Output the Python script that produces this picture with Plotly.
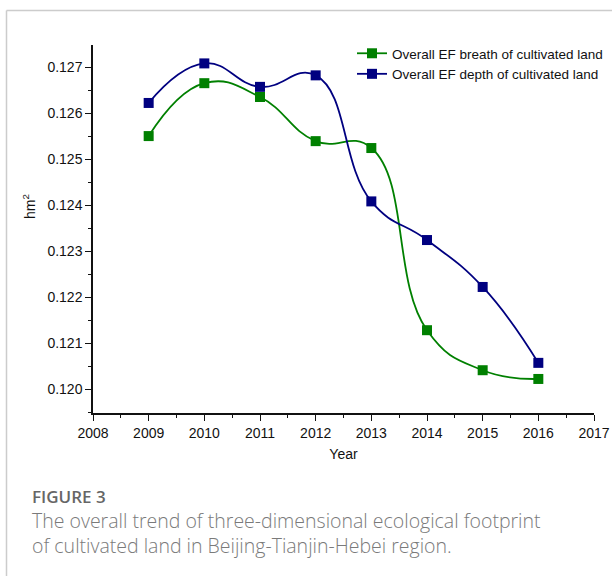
import plotly.graph_objects as go

years = [2009, 2010, 2011, 2012, 2013, 2014, 2015, 2016]
ef_breadth = [0.12551, 0.12666, 0.12636, 0.12540, 0.12525, 0.12129, 0.12042, 0.12023]
ef_depth = [0.12623, 0.12709, 0.12658, 0.12683, 0.12409, 0.12325, 0.12223, 0.12058]

series_names = ["Overall EF breath of cultivated land", "Overall EF depth of cultivated land"]
series_colors = ["#008000", "#000080"]

fig = go.Figure()
for name, vals, col in zip(series_names, [ef_breadth, ef_depth], series_colors):
    fig.add_trace(go.Scatter(
        x=years, y=vals, name=name, mode="lines+markers",
        line=dict(color=col, width=1.8, shape="spline", smoothing=1.3),
        marker=dict(symbol="square", size=10, color=col),
    ))

# plot area in pixels: x 93..594, y 45..413
W, H = 613, 576
L, R, T, B = 93, 19, 45, 163
pw, ph = W - L - R, H - T - B

def px(x):
    return (x - L) / pw

def py(y):
    return (H - B - y) / ph

axis_font = dict(family="Liberation Sans, Arial, sans-serif", size=14, color="#111")

fig.update_layout(
    width=W, height=H,
    margin=dict(l=L, r=R, t=T, b=B, autoexpand=False),
    paper_bgcolor="white", plot_bgcolor="white",
    showlegend=True,
    legend=dict(x=px(352), y=py(38), xanchor="left", yanchor="top",
                font=dict(family="Liberation Sans, Arial, sans-serif", size=13.5, color="#111"),
                bgcolor="rgba(0,0,0,0)", tracegroupgap=0, itemwidth=30),
    xaxis=dict(range=[2008, 2017], dtick=1, tick0=2008, showgrid=False, zeroline=False,
               showline=True, linecolor="#111", linewidth=1.5,
               ticks="outside", ticklen=6, tickwidth=1.3, tickcolor="#111",
               minor=dict(dtick=0.5, ticks="outside", ticklen=3, tickwidth=1.2, tickcolor="#111"),
               tickfont=axis_font,
               title=dict(text="Year", font=axis_font, standoff=10)),
    yaxis=dict(range=[0.11949, 0.12749], dtick=0.001, tick0=0.120, tickformat=".3f",
               showgrid=False, zeroline=False,
               showline=True, linecolor="#111", linewidth=1.5,
               ticks="outside", ticklen=6, tickwidth=1.3, tickcolor="#111",
               minor=dict(dtick=0.0005, ticks="outside", ticklen=3, tickwidth=1.2, tickcolor="#111"),
               tickfont=axis_font),
)

# y-axis title
fig.add_annotation(text="hm<sup>2</sup>", xref="paper", yref="paper",
                   x=px(29), y=py(207), xanchor="center", yanchor="middle",
                   textangle=-90, showarrow=False, font=axis_font)

# frame around the figure panel
fig.add_shape(type="line", xref="paper", yref="paper",
              x0=px(6.5), x1=px(6.5), y0=py(10.5), y1=py(576), line=dict(color="#cccccc", width=1.5))
fig.add_shape(type="line", xref="paper", yref="paper",
              x0=px(6.5), x1=px(612), y0=py(10.5), y1=py(10.5), line=dict(color="#cccccc", width=1.5))

caption_font = "Open Sans, Lato, sans-serif"
fig.add_annotation(text="FIGURE 3", xref="paper", yref="paper",
                   x=px(30), y=py(496), xanchor="left", yanchor="middle", showarrow=False,
                   font=dict(family=caption_font, size=17, color="#666", weight=600))
fig.add_annotation(text="The overall trend of three-dimensional ecological footprint",
                   xref="paper", yref="paper", x=px(30), y=py(520), xanchor="left", yanchor="middle",
                   showarrow=False, font=dict(family=caption_font, size=19.5, color="#7a7a7a", weight=300))
fig.add_annotation(text="of cultivated land in Beijing-Tianjin-Hebei region.",
                   xref="paper", yref="paper", x=px(30), y=py(545), xanchor="left", yanchor="middle",
                   showarrow=False, font=dict(family=caption_font, size=19.5, color="#7a7a7a", weight=300))

fig.write_html("out.html")
